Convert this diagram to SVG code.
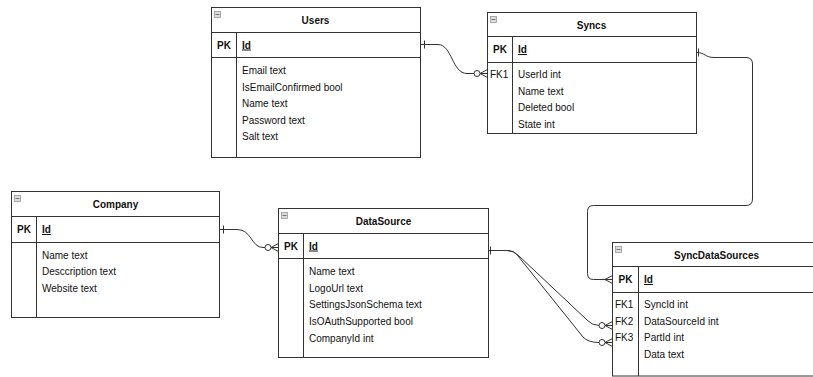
<svg xmlns="http://www.w3.org/2000/svg" width="813" height="377" viewBox="0 0 813 377">
  <style>
    .box { fill: #ffffff; stroke: #333333; stroke-width: 1; }
    .sep { stroke: #333333; stroke-width: 1; fill: none; }
    .icon { fill: #dcdcdc; stroke: #9a9a9a; stroke-width: 0.8; }
    .icon-bar { stroke: #777777; stroke-width: 1; }
    .title { font-family: "Liberation Sans", Arial, sans-serif; font-size: 10px; font-weight: bold; fill: #111111; text-anchor: middle; }
    .key { font-family: "Liberation Sans", Arial, sans-serif; font-size: 10px; font-weight: bold; fill: #111111; text-anchor: middle; }
    .pkname { font-family: "Liberation Sans", Arial, sans-serif; font-size: 10px; font-weight: bold; fill: #111111; text-decoration: underline; }
    .row { font-family: "Liberation Sans", Arial, sans-serif; font-size: 10px; fill: #111111; }
    .fk { font-family: "Liberation Sans", Arial, sans-serif; font-size: 10px; fill: #111111; }
    .edge { fill: none; stroke: #333333; stroke-width: 1; }
    .ring { fill: #ffffff; stroke: #333333; stroke-width: 1; }
  </style>

  <rect x="0" y="0" width="813" height="377" fill="#ffffff"/>

  <!-- Users -->
  <g id="users">
    <rect class="box" x="211.5" y="7.5" width="209" height="150"/>
    <rect class="icon" x="214.5" y="11.5" width="6" height="6"/>
    <line class="icon-bar" x1="215.5" y1="14.5" x2="219.5" y2="14.5"/>
    <line class="sep" x1="211.5" y1="32.5" x2="420.5" y2="32.5"/>
    <line class="sep" x1="211.5" y1="57.5" x2="420.5" y2="57.5"/>
    <line class="sep" x1="236.5" y1="32.5" x2="236.5" y2="157.5"/>
    <text class="title" x="315.5" y="24">Users</text>
    <text class="key" x="224" y="48.5">PK</text>
    <text class="pkname" x="242" y="48.5">Id</text>
    <text class="row" x="242" y="74">Email text</text>
    <text class="row" x="242" y="90.6">IsEmailConfirmed bool</text>
    <text class="row" x="242" y="107.2">Name text</text>
    <text class="row" x="242" y="123.8">Password text</text>
    <text class="row" x="242" y="140.4">Salt text</text>
  </g>

  <!-- Syncs -->
  <g id="syncs">
    <rect class="box" x="487.5" y="12.5" width="209" height="121"/>
    <rect class="icon" x="490.5" y="16.5" width="6" height="6"/>
    <line class="icon-bar" x1="491.5" y1="19.5" x2="495.5" y2="19.5"/>
    <line class="sep" x1="487.5" y1="36.5" x2="696.5" y2="36.5"/>
    <line class="sep" x1="487.5" y1="62.5" x2="696.5" y2="62.5"/>
    <line class="sep" x1="512.5" y1="36.5" x2="512.5" y2="133.5"/>
    <text class="title" x="591.5" y="28.5">Syncs</text>
    <text class="key" x="500" y="53">PK</text>
    <text class="pkname" x="518" y="53">Id</text>
    <text class="fk" x="490" y="78">FK1</text>
    <text class="row" x="518" y="78">UserId int</text>
    <text class="row" x="518" y="94.5">Name text</text>
    <text class="row" x="518" y="111">Deleted bool</text>
    <text class="row" x="518" y="127.5">State int</text>
  </g>

  <!-- Company -->
  <g id="company">
    <rect class="box" x="11.5" y="191.5" width="208" height="126"/>
    <rect class="icon" x="14.5" y="195.5" width="6" height="6"/>
    <line class="icon-bar" x1="15.5" y1="198.5" x2="19.5" y2="198.5"/>
    <line class="sep" x1="11.5" y1="216.5" x2="219.5" y2="216.5"/>
    <line class="sep" x1="11.5" y1="242.5" x2="219.5" y2="242.5"/>
    <line class="sep" x1="36.5" y1="216.5" x2="36.5" y2="317.5"/>
    <text class="title" x="115.5" y="208">Company</text>
    <text class="key" x="24" y="233">PK</text>
    <text class="pkname" x="42" y="233">Id</text>
    <text class="row" x="42" y="258.5">Name text</text>
    <text class="row" x="42" y="275">Desccription text</text>
    <text class="row" x="42" y="291.5">Website text</text>
  </g>

  <!-- DataSource -->
  <g id="datasource">
    <rect class="box" x="278.5" y="208.5" width="210" height="149"/>
    <rect class="icon" x="281.5" y="212.5" width="6" height="6"/>
    <line class="icon-bar" x1="282.5" y1="215.5" x2="286.5" y2="215.5"/>
    <line class="sep" x1="278.5" y1="233.5" x2="488.5" y2="233.5"/>
    <line class="sep" x1="278.5" y1="258.5" x2="488.5" y2="258.5"/>
    <line class="sep" x1="303.5" y1="233.5" x2="303.5" y2="357.5"/>
    <text class="title" x="383.5" y="225">DataSource</text>
    <text class="key" x="291" y="249.5">PK</text>
    <text class="pkname" x="309" y="249.5">Id</text>
    <text class="row" x="309" y="275">Name text</text>
    <text class="row" x="309" y="291.7">LogoUrl text</text>
    <text class="row" x="309" y="308.4">SettingsJsonSchema text</text>
    <text class="row" x="309" y="325.1">IsOAuthSupported bool</text>
    <text class="row" x="309" y="341.8">CompanyId int</text>
  </g>

  <!-- SyncDataSources -->
  <g id="syncdatasources">
    <rect class="box" x="612.5" y="242.5" width="210" height="133.5"/>
    <rect class="icon" x="615.5" y="246.5" width="6" height="6"/>
    <line class="icon-bar" x1="616.5" y1="249.5" x2="620.5" y2="249.5"/>
    <line class="sep" x1="612.5" y1="266.5" x2="822.5" y2="266.5"/>
    <line class="sep" x1="612.5" y1="292.5" x2="822.5" y2="292.5"/>
    <line class="sep" x1="638.5" y1="266.5" x2="638.5" y2="376"/>
    <text class="title" x="716.5" y="258.5">SyncDataSources</text>
    <text class="key" x="625.5" y="283">PK</text>
    <text class="pkname" x="644" y="283">Id</text>
    <text class="fk" x="615" y="308">FK1</text>
    <text class="fk" x="615" y="324.6">FK2</text>
    <text class="fk" x="615" y="341.2">FK3</text>
    <text class="row" x="644" y="308">SyncId int</text>
    <text class="row" x="644" y="324.6">DataSourceId int</text>
    <text class="row" x="644" y="341.2">PartId int</text>
    <text class="row" x="644" y="357.8">Data text</text>
  </g>

  <!-- Relationships -->
  <g id="connectors">
    <!-- Users.Id -> Syncs.UserId -->
    <path class="edge" d="M420.5,44.5 H438 C452,44.5 452,73.5 467,73.5 H474"/>
    <path class="edge" d="M424.5,40.5 V48.5"/>
    <circle class="ring" cx="477" cy="73.5" r="3"/>
    <path class="edge" d="M480,73.5 L487.5,69.5 M480,73.5 H487.5 M480,73.5 L487.5,77.5"/>

    <!-- Syncs.Id -> SyncDataSources.SyncId -->
    <path class="edge" d="M696.5,52.5 C705,52.5 705,57.5 714,57.5 H746 Q752.5,57.5 752.5,64 V199 Q752.5,205.5 746,205.5 H593.5 Q587.5,205.5 587.5,211.5 V273.5 Q587.5,279.5 593.5,279.5 H612.5"/>
    <path class="edge" d="M698.5,48.5 V56.5"/>
    <path class="edge" d="M605,279.5 L612.5,275.5 M605,279.5 L612.5,283.5"/>

    <!-- Company.Id -> DataSource.CompanyId -->
    <path class="edge" d="M219.5,229.5 H237 C252,229.5 251,247.5 263,247.5 H265"/>
    <path class="edge" d="M223.5,225.5 V233.5"/>
    <circle class="ring" cx="268" cy="247.5" r="3"/>
    <path class="edge" d="M271,247.5 L278.5,243.5 M271,247.5 H278.5 M271,247.5 L278.5,251.5"/>

    <!-- DataSource.Id -> SyncDataSources.DataSourceId / PartId -->
    <path class="edge" d="M488.5,250.5 H507 Q514,250.5 519,256 L587,320 Q592,325.5 599,325.5"/>
    <path class="edge" d="M488.5,250.5 H507 Q514,250.5 518,256 L583,337 Q588,342.5 599,342.5"/>
    <path class="edge" d="M490.5,246.5 V254.5"/>
    <circle class="ring" cx="602" cy="325.5" r="3"/>
    <circle class="ring" cx="602" cy="342.5" r="3"/>
    <path class="edge" d="M605,325.5 L612.5,321.5 M605,325.5 H612.5 M605,325.5 L612.5,329.5"/>
    <path class="edge" d="M605,342.5 L612.5,338.5 M605,342.5 H612.5 M605,342.5 L612.5,346.5"/>
  </g>
</svg>
